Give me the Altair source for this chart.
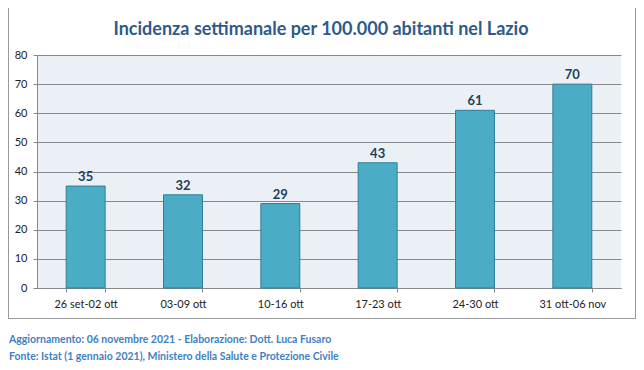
import altair as alt
import pandas as pd

weeks = ["26 set-02 ott", "03-09 ott", "10-16 ott", "17-23 ott", "24-30 ott", "31 ott-06 nov"]
incidence = [35, 32, 29, 43, 61, 70]

title_text = "Incidenza settimanale per 100.000 abitanti nel Lazio"
footer_lines = [
    "Aggiornamento: 06 novembre 2021 - Elaborazione: Dott. Luca Fusaro",
    "Fonte: Istat (1 gennaio 2021), Ministero della Salute e Protezione Civile",
]

df = pd.DataFrame({"week": weeks, "value": incidence})

FONT = "Lato"
W, H = 584, 233

x_enc = alt.X("week:N", sort=weeks, title=None,
              scale=alt.Scale(paddingInner=0.6, paddingOuter=0.3),
              axis=alt.Axis(labelAngle=0, labelFont=FONT, labelFontSize=11,
                            labelColor="#222222", labelPadding=6,
                            tickBand="extent", tickSize=4, tickColor="#888888",
                            domainColor="#888888", grid=False))
y_enc = alt.Y("value:Q", title=None,
              scale=alt.Scale(domain=[0, 80], nice=False),
              axis=alt.Axis(values=list(range(0, 81, 10)), labelFont=FONT,
                            labelFontSize=11, labelColor="#222222",
                            labelPadding=6, tickSize=4, tickColor="#888888",
                            domainColor="#888888", gridColor="#888888",
                            gridWidth=1, labelOverlap=False))

base = alt.Chart(df)

bars = base.mark_bar(color="#4BACC6", stroke="#2F7E95",
                     strokeWidth=1).encode(x=x_enc, y=y_enc)

labels = base.mark_text(dy=-9, font=FONT, fontWeight="bold",
                        fontSize=13, color="#1F3F5A").encode(
    x=x_enc, y=y_enc, text="value:Q")

border = base.mark_rect(fillOpacity=0, stroke="#9a9a9a", strokeWidth=1,
                        clip=False).encode(
    x=alt.value(-28.5), x2=alt.value(598.5), y=alt.value(-47.5), y2=alt.value(263.5))

title_df = pd.DataFrame({"t": [title_text]})
title = alt.Chart(title_df).mark_text(
    align="center", baseline="middle", font=FONT, fontSize=18,
    fontWeight="bold", color="#2E5A8A").encode(
    x=alt.value(W / 2 - 8), y=alt.value(-25), text="t:N")

footer_df = pd.DataFrame({"line": footer_lines})
footer1 = alt.Chart(footer_df).transform_filter(
    alt.datum.line == footer_lines[0]).mark_text(
    align="left", baseline="middle", font=FONT, fontWeight="bold",
    fontSize=10.5, color="#3F7FC4").encode(
    x=alt.value(-28), y=alt.value(285), text="line:N")
footer2 = alt.Chart(footer_df).transform_filter(
    alt.datum.line == footer_lines[1]).mark_text(
    align="left", baseline="middle", font=FONT, fontWeight="bold",
    fontSize=10.5, color="#3F7FC4").encode(
    x=alt.value(-28), y=alt.value(302), text="line:N")

chart = alt.layer(bars, labels, border, title, footer1, footer2).properties(
    width=W, height=H,
    background="white",
    autosize=alt.AutoSizeParams(type="none"),
    padding={"left": 29, "top": 47, "right": 15, "bottom": 75},
).configure_view(fill="#EAF0F5", strokeWidth=0)

chart.save("out.html", embed_options={"renderer": "svg", "actions": False})
